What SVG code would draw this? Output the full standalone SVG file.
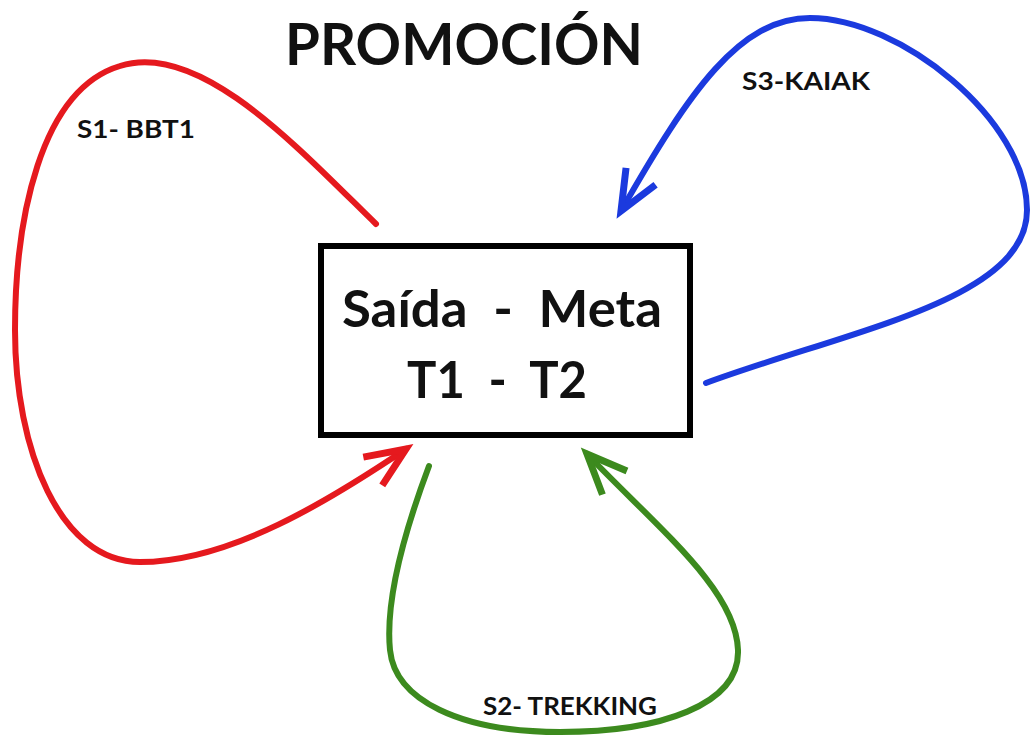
<svg xmlns="http://www.w3.org/2000/svg" width="1032" height="743" viewBox="0 0 1032 743">
<style>
text{font-family:Lato,"Open Sans","Liberation Sans",sans-serif;font-weight:bold;fill:#111}
.title{font-size:58px}
.box{font-size:52px}
.lbl{font-size:24px}
.c{fill:none;stroke-width:6;stroke-linecap:round;stroke-linejoin:round}
</style>
<defs>
<marker id="ar" markerUnits="userSpaceOnUse" markerWidth="60" markerHeight="60" refX="0" refY="0" viewBox="-50 -30 60 60" orient="auto" overflow="visible"><path d="M-40,-17 L0,0 L-40,17" fill="none" stroke="#e5191e" stroke-width="7" stroke-linejoin="miter"/></marker>
<marker id="ab" markerUnits="userSpaceOnUse" markerWidth="60" markerHeight="60" refX="0" refY="0" viewBox="-50 -30 60 60" orient="auto" overflow="visible"><path d="M-40,-17 L0,0 L-40,17" fill="none" stroke="#1b3ade" stroke-width="7" stroke-linejoin="miter"/></marker>
<marker id="ag" markerUnits="userSpaceOnUse" markerWidth="60" markerHeight="60" refX="0" refY="0" viewBox="-50 -30 60 60" orient="auto" overflow="visible"><path d="M-40,-17 L0,0 L-40,17" fill="none" stroke="#3c8a1e" stroke-width="7" stroke-linejoin="miter"/></marker>
</defs>
<rect width="1032" height="743" fill="#fff"/>
<text class="title" x="285" y="65" textLength="358" lengthAdjust="spacingAndGlyphs">PROMOCIÓN</text>
<g id="node-main">
<rect x="321" y="246" width="369" height="189" fill="#fff" stroke="#000" stroke-width="6"/>
<text class="box" x="342" y="327" textLength="320" lengthAdjust="spacingAndGlyphs" xml:space="preserve">Saída  -  Meta</text>
<text class="box" x="407" y="398" textLength="180" lengthAdjust="spacingAndGlyphs" xml:space="preserve">T1  -  T2</text>
</g>
<g id="connectors">
<path class="c" stroke="#e5191e" marker-end="url(#ar)" d="M376,224 C300,150 200,40 120,66 C40,90 15,220 15,330 C15,450 60,562 140,562 C230,562 330,500 406,449"/>
<path class="c" stroke="#1b3ade" marker-end="url(#ab)" d="M706,383 C850,330 1027,300 1027,210 C1027,120 900,18 810,18 C740,18 690,90 621,211"/>
<path class="c" stroke="#3c8a1e" marker-end="url(#ag)" d="M429,466 C405,530 385,600 390,650 C395,700 460,732 560,732 C660,732 740,705 738,650 C736,590 660,530 587,454"/>
<text class="lbl" x="77" y="138" textLength="118" lengthAdjust="spacingAndGlyphs">S1- BBT1</text>
<text class="lbl" x="742" y="90" textLength="128" lengthAdjust="spacingAndGlyphs">S3-KAIAK</text>
<text class="lbl" x="483" y="715" textLength="174" lengthAdjust="spacingAndGlyphs">S2- TREKKING</text>
</g>
</svg>
